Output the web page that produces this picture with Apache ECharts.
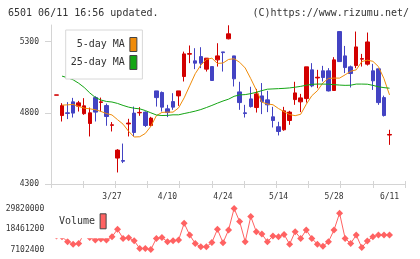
<!DOCTYPE html>
<html>
<head>
<meta charset="utf-8">
<script src="https://cdn.jsdelivr.net/npm/echarts@6/dist/echarts.min.js"></script>
<style>
  html, body { margin: 0; padding: 0; background: #fff; }
  #chart { width: 420px; height: 259px; }
</style>
</head>
<body>
<div id="chart"></div>
<script>
const dates = ['3/12','3/13','3/16','3/17','3/18','3/19','3/23','3/24','3/25','3/26',
  '3/27','3/30','3/31','4/1','4/2','4/3','4/6','4/7','4/8','4/9',
  '4/10','4/13','4/14','4/15','4/16','4/17','4/20','4/21','4/22','4/23',
  '4/24','4/27','4/28','4/30','5/1','5/7','5/8','5/11','5/12','5/13',
  '5/14','5/15','5/18','5/19','5/20','5/21','5/22','5/25','5/26','5/27',
  '5/28','5/29','6/1','6/2','6/3','6/4','6/5','6/8','6/9','6/10','6/11'];

const opens  = [4924,4781,4800,4877,4847,4794,4725,4907,4873,4851,
  4712,4482,4465,4722,4798,4800,4805,4711,4954,4943,
  4828,4879,4919,5055,5212,5165,5195,5107,5125,5172,
  5228,5320,5200,4947,4800,4898,4837,4919,4891,4772,
  4702,4681,4746,4893,4877,4900,5102,5045,5095,5095,
  4957,5371,5200,5123,5132,5177,5142,5095,5109,4907,4644];
const closes = [4926,4851,4796,4798,4870,4849,4800,4805,4877,4774,
  4716,4538,4460,4728,4662,4803,4711,4763,4907,4840,
  4802,4840,4954,5214,5216,5149,5149,5184,5027,5200,
  5223,5355,5039,4872,4795,4844,4933,4879,4856,4746,
  4669,4814,4805,4940,4905,5123,4989,5050,5048,4954,
  5172,5160,5118,5076,5263,5181,5298,5025,4872,4781,4648];
const lows   = [4924,4739,4756,4767,4809,4786,4634,4739,4809,4709,
  4669,4381,4447,4634,4634,4779,4700,4704,4844,4809,
  4770,4821,4849,5020,5149,5107,5114,5090,5027,5125,
  5090,5316,4985,4821,4767,4837,4802,4791,4805,4697,
  4641,4674,4716,4856,4805,4872,4980,4973,5020,4950,
  4957,5160,5079,4978,5114,5125,5132,4961,4856,4774,4575];
const highs  = [4926,4868,4875,4905,4884,4903,4837,4917,4907,4865,
  4735,4545,4584,4758,4844,4840,4810,4772,4954,4950,
  4856,4938,4954,5230,5273,5254,5261,5184,5125,5289,
  5228,5415,5200,5018,4856,4983,4968,5009,4954,4842,
  4737,4842,4814,5018,4933,5123,5149,5102,5130,5114,
  5191,5371,5270,5132,5371,5214,5364,5144,5109,4921,4681];

const ma5 = [null,4854,4856,4859,4845,4833,4828,4822,4810,4795,
  4785,4752,4720,4670,4630,4632,4655,4705,4780,4803,
  4805,4805,4835,4905,4990,5075,5135,5175,5184,5147,
  5150,5175,5180,5155,5115,5040,4960,4875,4862,4857,
  4830,4808,4788,4780,4790,4860,4920,4955,5010,5042,
  5044,5044,5067,5092,5102,5160,5170,5162,5125,5040,4926];
const ma25 = [null,5058,5046,5032,5008,4978,4940,4908,4890,4880,
  4876,4866,4852,4840,4832,4828,4816,4800,4785,4781,
  4782,4786,4786,4795,4803,4812,4823,4837,4852,4868,
  4883,4896,4916,4926,4928,4935,4944,4956,4966,4968,
  4970,4972,4975,4980,4986,4994,5000,5002,5002,5001,
  4998,4995,4993,4994,5002,5002,5001,4993,4983,4977,4973];

const volumes = [14550000,14180000,11390000,10080000,10450000,16040000,13810000,12320000,12880000,12320000,
  14180000,18270000,13250000,13620000,11950000,7660000,7660000,7102400,13250000,13810000,
  11390000,11950000,12320000,21630000,15110000,10450000,8590000,8590000,11010000,18270000,
  10830000,17900000,29820000,22560000,11390000,25350000,16970000,15670000,11390000,14550000,
  14180000,15480000,10080000,16970000,13250000,17900000,13250000,10080000,8970000,11390000,
  17900000,27210000,13250000,10450000,15110000,8220000,11760000,14180000,15110000,15110000,15110000];

const priceTicks = [4300, 4800, 5300];
const volumeTicks = [7102400, 18461200, 29820000];

const font = 'DejaVu Sans Mono';
const red = '#d20000';
const blue = '#4343c3';

const candleData = opens.map((o, i) => [o, closes[i], lows[i], highs[i]]);

const chart = echarts.init(document.getElementById('chart'));
const option = {
  backgroundColor: '#fff',
  animation: false,
  title: [
    { text: '6501 06/11 16:56 updated.', left: 8, top: 8, padding: 0,
      textStyle: { fontFamily: font, fontSize: 10, fontWeight: 'normal', color: '#333' } },
    { text: '(C)https://www.rizumu.net/', right: 11, top: 8, padding: 0,
      textStyle: { fontFamily: font, fontSize: 10, fontWeight: 'normal', color: '#333' } }
  ],
  legend: [
    {
      orient: 'vertical', left: 65.7, top: 30, align: 'right',
      padding: [7, 5, 9, 5], itemGap: 3, itemWidth: 7, itemHeight: 14,
      backgroundColor: '#fff', borderColor: '#d8d8d8', borderWidth: 1,
      selectedMode: false, icon: 'rect',
      textStyle: { fontFamily: font, fontSize: 10, color: '#333', width: 55, align: 'right' },
      data: [
        { name: '5-day MA', itemStyle: { color: '#f08c0a', borderColor: '#444', borderWidth: 1 } },
        { name: '25-day MA', itemStyle: { color: '#14a514', borderColor: '#444', borderWidth: 1 } }
      ]
    },
    {
      left: 52, top: 210.3, align: 'right',
      padding: [3, 2, 9, 7], itemWidth: 6, itemHeight: 15,
      backgroundColor: '#fff', selectedMode: false, icon: 'rect',
      textStyle: { fontFamily: font, fontSize: 10, color: '#333' },
      data: [{ name: 'Volume', itemStyle: { color: '#ff6262', borderColor: '#444', borderWidth: 1 } }]
    }
  ],
  grid: [
    { left: 51, top: 25, width: 354, height: 159 },
    { left: 53.7, top: 25, width: 338.6, height: 159 },
    { left: 53.7, top: 208.5, width: 338.6, height: 41 }
  ],
  xAxis: [
    { type: 'value', gridIndex: 0, min: 0, max: 11, interval: 1,
      axisLine: { lineStyle: { color: '#d4d4d4' } },
      axisTick: { length: 4, lineStyle: { color: '#d4d4d4' } },
      axisLabel: { show: false }, splitLine: { show: false } },
    { type: 'value', gridIndex: 0, min: 0, max: 11, interval: 1, position: 'bottom',
      axisLine: { show: false },
      axisTick: { inside: true, length: 3, lineStyle: { color: '#d4d4d4' } },
      axisLabel: { show: false }, splitLine: { show: false } },
    { type: 'category', gridIndex: 1, data: dates, boundaryGap: true,
      axisLine: { show: false }, axisTick: { show: false },
      axisLabel: { interval: (i) => i > 0 && i % 10 === 0, margin: 9,
        fontFamily: font, fontSize: 8, color: '#333' } },
    { type: 'category', gridIndex: 2, data: dates, boundaryGap: true, show: false }
  ],
  yAxis: [
    { type: 'value', gridIndex: 0, min: 4300, max: 5417,
      axisLine: { show: true, lineStyle: { color: '#d4d4d4' } },
      axisTick: { show: true, length: 6, customValues: priceTicks, lineStyle: { color: '#d4d4d4' } },
      axisLabel: { customValues: priceTicks, margin: 12, formatter: (v) => String(v),
        fontFamily: font, fontSize: 8, color: '#333' },
      splitLine: { show: false } },
    { type: 'value', gridIndex: 1, min: 4300, max: 5417, show: false, splitLine: { show: false } },
    { type: 'value', gridIndex: 2, min: 7102400, max: 29820000,
      axisLine: { show: false }, axisTick: { show: false }, splitLine: { show: false },
      axisLabel: { customValues: volumeTicks, margin: 9.5, formatter: (v) => String(v),
        fontFamily: font, fontSize: 8, color: '#333' } }
  ],
  series: [
    {
      name: 'price', type: 'candlestick', xAxisIndex: 2, yAxisIndex: 1,
      data: candleData, barWidth: 4,
      itemStyle: { color: red, color0: blue, borderColor: red, borderColor0: blue, borderWidth: 1 }
    },
    {
      name: '5-day MA', type: 'line', xAxisIndex: 2, yAxisIndex: 1, data: ma5,
      showSymbol: false, lineStyle: { color: '#f08c0a', width: 1 }, itemStyle: { color: '#f08c0a' }
    },
    {
      name: '25-day MA', type: 'line', xAxisIndex: 2, yAxisIndex: 1, data: ma25,
      showSymbol: false, lineStyle: { color: '#14a514', width: 1 }, itemStyle: { color: '#14a514' }
    },
    {
      name: 'Volume', type: 'line', xAxisIndex: 3, yAxisIndex: 2, data: volumes,
      symbol: 'diamond', symbolSize: 7, showAllSymbol: true,
      lineStyle: { color: '#ff6262', width: 1 }, itemStyle: { color: '#ff6262' }
    }
  ]
};
chart.setOption(option);
</script>
</body>
</html>
